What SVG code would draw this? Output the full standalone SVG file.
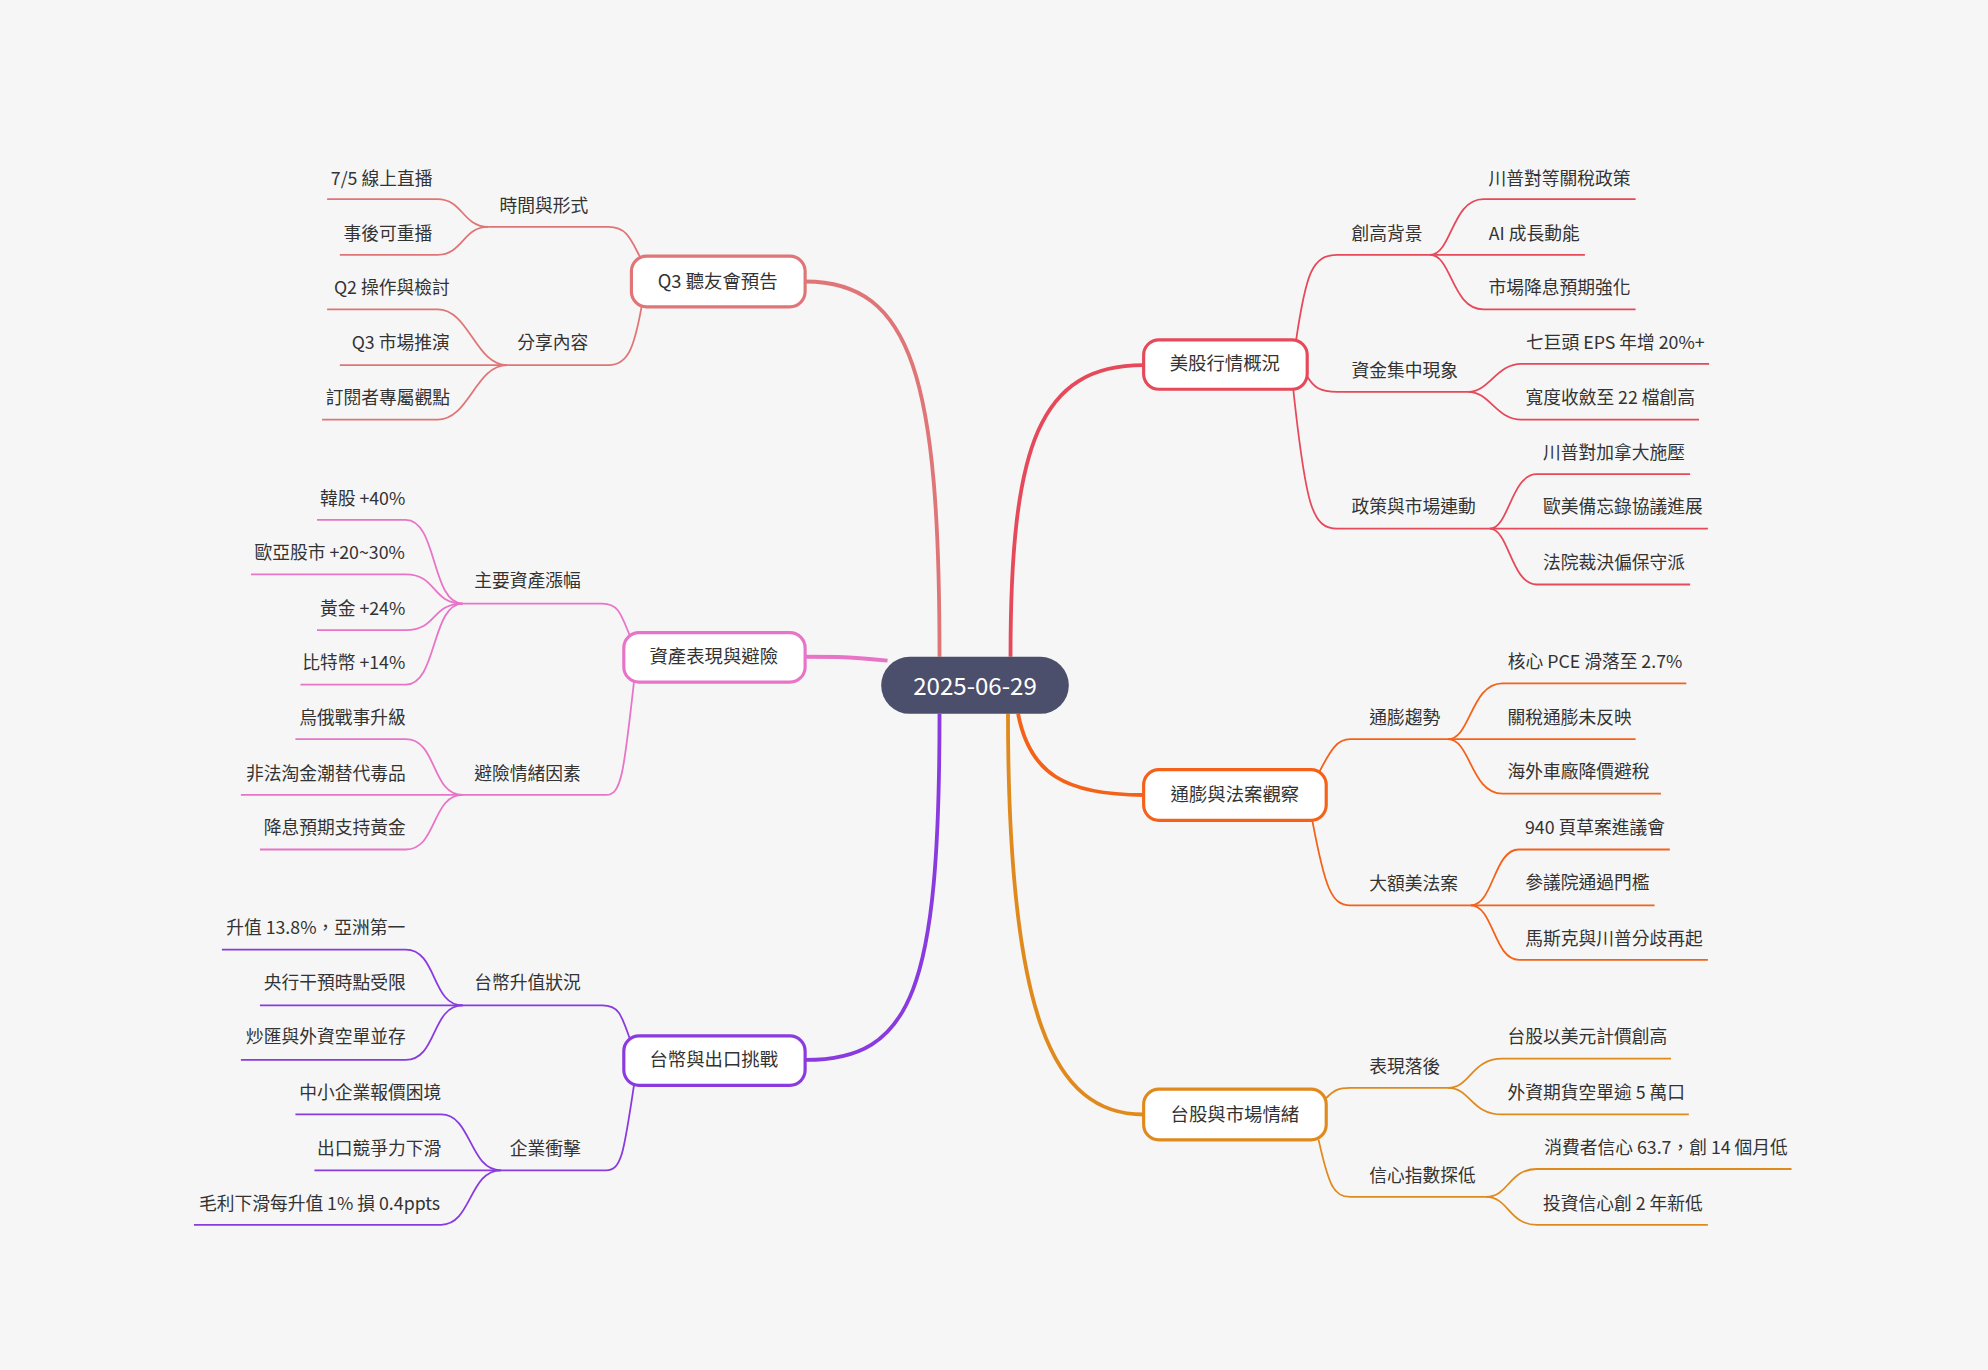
<svg xmlns="http://www.w3.org/2000/svg" width="1988" height="1370" viewBox="0 0 1988 1370">
<style>
text{font-family:"Noto Sans CJK TC","Noto Sans",sans-serif;font-size:14px;fill:#333;text-anchor:middle}
.c path{fill:none}
.main{stroke-width:3}
.sub{stroke-width:1.4}
.box{fill:#fff;stroke-width:2.5}
.n{font-size:14.5px}
</style>
<rect width="1988" height="1370" fill="#f6f6f6"/>
<g transform="scale(1.2679)">
<g class="c" id="connectors">
<path class="main" stroke="#e5495a" d="M797,518 C797,350 820,288 902,288"/>
<path class="main" stroke="#f4621a" d="M803,563 C812,610 840,627 902,627"/>
<path class="main" stroke="#e08a1e" d="M795,563 C795,800 830,879 902,879"/>
<path class="main" stroke="#e07577" d="M741,518 C741,300 720,222 635,222"/>
<path class="main" stroke="#e874c8" d="M700,521 C670,518 660,518 635,518"/>
<path class="main" stroke="#8a3be0" d="M741,563 C741,780 720,836 635,836"/>
<g stroke="#e5495a" class="sub">
<path d="M1022,270 C1030,215 1035,201 1055,201 L1128,201"/>
<path d="M1128,201 C1145,201 1145,157 1170,157 L1290,157"/>
<path d="M1128,201 L1250,201"/>
<path d="M1128,201 C1145,201 1145,244 1170,244 L1290,244"/>
<path d="M1031,297 C1036,305 1040,309 1055,309 L1158,309"/>
<path d="M1158,309 C1175,309 1180,287 1200,287 L1348,287"/>
<path d="M1158,309 C1175,309 1180,331 1200,331 L1340,331"/>
<path d="M1020,307 C1030,400 1035,417 1055,417 L1175,417"/>
<path d="M1175,417 C1190,417 1192,374 1212,374 L1333,374"/>
<path d="M1175,417 L1347,417"/>
<path d="M1175,417 C1190,417 1192,461 1212,461 L1333,461"/>
</g>
<g stroke="#f4621a" class="sub">
<path d="M1040,610 C1050,590 1055,583 1065,583 L1142,583"/>
<path d="M1142,583 C1160,583 1160,539 1185,539 L1330,539"/>
<path d="M1142,583 L1290,583"/>
<path d="M1142,583 C1160,583 1160,626 1185,626 L1310,626"/>
<path d="M1035,647 C1045,700 1050,714 1065,714 L1160,714"/>
<path d="M1160,714 C1178,714 1178,670 1198,670 L1317,670"/>
<path d="M1160,714 L1305,714"/>
<path d="M1160,714 C1178,714 1178,757 1198,757 L1347,757"/>
</g>
<g stroke="#e08a1e" class="sub">
<path d="M1046,866 C1052,860 1055,858 1065,858 L1142,858"/>
<path d="M1142,858 C1160,858 1160,835 1185,835 L1318,835"/>
<path d="M1142,858 C1160,858 1160,879 1185,879 L1332,879"/>
<path d="M1040,899 C1048,935 1052,944 1065,944 L1172,944"/>
<path d="M1172,944 C1190,944 1190,922 1212,922 L1413,922"/>
<path d="M1172,944 C1190,944 1190,966 1212,966 L1347,966"/>
</g>
<g stroke="#e07577" class="sub">
<path d="M506,205 C498,190 495,179 480,179 L385,179"/>
<path d="M385,179 C365,179 365,157 345,157 L258,157"/>
<path d="M385,179 C365,179 365,201 345,201 L268,201"/>
<path d="M506,242 C500,275 495,288 480,288 L400,288"/>
<path d="M400,288 C375,288 370,244 345,244 L258,244"/>
<path d="M400,288 L268,288"/>
<path d="M400,288 C375,288 370,331 345,331 L254,331"/>
</g>
<g stroke="#e874c8" class="sub">
<path d="M497,502 C490,485 488,476 475,476 L365,476"/>
<path d="M365,476 C340,476 345,410 320,410 L250,410"/>
<path d="M365,476 C340,476 345,453 320,453 L198,453"/>
<path d="M365,476 C340,476 345,497 320,497 L250,497"/>
<path d="M365,476 C340,476 345,540 320,540 L237,540"/>
<path d="M500,538 C492,610 490,627 478,627 L365,627"/>
<path d="M365,627 C340,627 345,583 320,583 L233,583"/>
<path d="M365,627 L190,627"/>
<path d="M365,627 C340,627 345,670 320,670 L205,670"/>
</g>
<g stroke="#8a3be0" class="sub">
<path d="M497,820 C490,800 488,793 475,793 L365,793"/>
<path d="M365,793 C340,793 345,749 320,749 L175,749"/>
<path d="M365,793 L205,793"/>
<path d="M365,793 C340,793 345,836 320,836 L190,836"/>
<path d="M500,856 C492,910 490,923 478,923 L395,923"/>
<path d="M395,923 C370,923 372,879 348,879 L233,879"/>
<path d="M395,923 L248,923"/>
<path d="M395,923 C370,923 372,966 348,966 L153,966"/>
</g>
</g>
<g id="root"><rect x="695" y="518" width="148" height="45" rx="22.5" fill="#4b4f6b"/><text x="769" y="548" style="font-size:19px;fill:#fff">2025-06-29</text></g>
<g id="n1"><rect class="box" stroke="#e5495a" x="902" y="268" width="129" height="39" rx="12"/><text class="n" x="966" y="292">美股行情概況</text></g>
<g id="n2"><rect class="box" stroke="#f4621a" x="902" y="607" width="144" height="40" rx="12"/><text class="n" x="974" y="632">通膨與法案觀察</text></g>
<g id="n3"><rect class="box" stroke="#e08a1e" x="902" y="859" width="144" height="40" rx="12"/><text class="n" x="974" y="884">台股與市場情緒</text></g>
<g id="n4"><rect class="box" stroke="#e07577" x="498" y="202" width="137" height="40" rx="12"/><text class="n" x="566" y="227">Q3 聽友會預告</text></g>
<g id="n5"><rect class="box" stroke="#e874c8" x="492" y="499" width="143" height="39" rx="12"/><text class="n" x="563" y="523">資產表現與避險</text></g>
<g id="n6"><rect class="box" stroke="#8a3be0" x="492" y="817" width="143" height="39" rx="12"/><text class="n" x="563" y="841">台幣與出口挑戰</text></g>
<g id="labels">
<text x="1094" y="189">創高背景</text>
<text x="1230" y="146">川普對等關稅政策</text>
<text x="1210" y="189">AI 成長動能</text>
<text x="1230" y="232">市場降息預期強化</text>
<text x="1108" y="297">資金集中現象</text>
<text x="1274" y="275">七巨頭 EPS 年增 20%+</text>
<text x="1270" y="319">寬度收斂至 22 檔創高</text>
<text x="1115" y="405">政策與市場連動</text>
<text x="1273" y="362">川普對加拿大施壓</text>
<text x="1280" y="405">歐美備忘錄協議進展</text>
<text x="1273" y="449">法院裁決偏保守派</text>
<text x="1108" y="571">通膨趨勢</text>
<text x="1258" y="527">核心 PCE 滑落至 2.7%</text>
<text x="1238" y="571">關稅通膨未反映</text>
<text x="1245" y="614">海外車廠降價避稅</text>
<text x="1115" y="702">大額美法案</text>
<text x="1258" y="658">940 頁草案進議會</text>
<text x="1252" y="701">參議院通過門檻</text>
<text x="1273" y="745">馬斯克與川普分歧再起</text>
<text x="1108" y="846">表現落後</text>
<text x="1252" y="823">台股以美元計價創高</text>
<text x="1259" y="867">外資期貨空單逾 5 萬口</text>
<text x="1122" y="932">信心指數探低</text>
<text x="1314" y="910">消費者信心 63.7，創 14 個月低</text>
<text x="1280" y="954">投資信心創 2 年新低</text>
<text x="429" y="167">時間與形式</text>
<text x="301" y="146">7/5 線上直播</text>
<text x="306" y="189">事後可重播</text>
<text x="436" y="275">分享內容</text>
<text x="309" y="232">Q2 操作與檢討</text>
<text x="316" y="275">Q3 市場推演</text>
<text x="306" y="319">訂閱者專屬觀點</text>
<text x="416" y="463">主要資產漲幅</text>
<text x="286" y="398">韓股 +40%</text>
<text x="260" y="441">歐亞股市 +20~30%</text>
<text x="286" y="485">黃金 +24%</text>
<text x="279" y="528">比特幣 +14%</text>
<text x="416" y="615">避險情緒因素</text>
<text x="278" y="571">烏俄戰事升級</text>
<text x="257" y="615">非法淘金潮替代毒品</text>
<text x="264" y="658">降息預期支持黃金</text>
<text x="416" y="780">台幣升值狀況</text>
<text x="249" y="737">升值 13.8%，亞洲第一</text>
<text x="264" y="780">央行干預時點受限</text>
<text x="257" y="823">炒匯與外資空單並存</text>
<text x="430" y="911">企業衝擊</text>
<text x="292" y="867">中小企業報價困境</text>
<text x="299" y="911">出口競爭力下滑</text>
<text x="252" y="954">毛利下滑每升值 1% 損 0.4ppts</text>
</g>
</g>
</svg>
